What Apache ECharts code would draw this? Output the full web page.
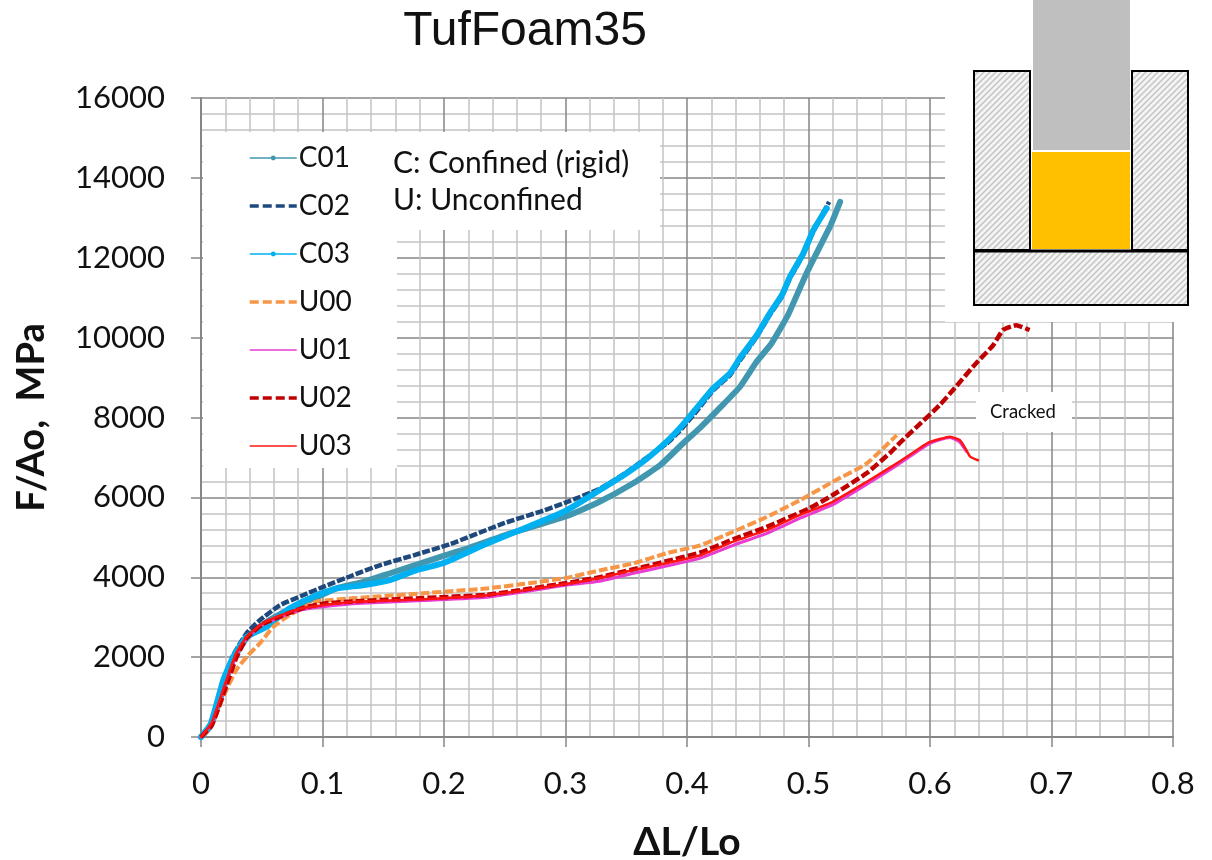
<!DOCTYPE html>
<html><head><meta charset="utf-8">
<style>html,body{margin:0;padding:0;background:#fff}#c{width:1212px;height:860px}</style>
<script src="https://cdn.jsdelivr.net/npm/echarts@6/dist/echarts.min.js"></script>
</head><body><div id="c"></div>
<script>
const C01=[[0,0],[.008,280],[.0184,1200],[.0266,1950],[.0376,2480],[.054,2880],[.073,3200],[.095,3500],[.112,3730],[.133,3880],[.1556,4100],[.197,4510],[.219,4720],[.25,5050],[.3,5520],[.328,5890],[.356,6360],[.378,6810],[.397,7360],[.4107,7740],[.427,8240],[.4436,8770],[.4574,9400],[.4697,9860],[.483,10560],[.4985,11620],[.5177,12780],[.526,13400]];
const C02=[[0,0],[.008,320],[.0181,1340],[.0266,2050],[.0376,2600],[.0486,2930],[.065,3300],[.084,3550],[.1006,3760],[.125,4050],[.147,4300],[.175,4550],[.205,4830],[.25,5360],[.28,5650],[.3,5870],[.328,6210],[.35,6620],[.367,7000],[.383,7340],[.394,7660],[.408,8160],[.4216,8680],[.4354,9060],[.4436,9430],[.4574,10020],[.468,10560],[.478,11020],[.4847,11480],[.4957,12080],[.504,12660],[.517,13400]];
const C03=[[0,0],[.008,330],[.0184,1430],[.0266,2010],[.0376,2510],[.054,2760],[.073,3220],[.095,3550],[.112,3720],[.133,3800],[.1556,3930],[.1775,4180],[.199,4350],[.232,4800],[.26,5150],[.3,5660],[.328,6180],[.35,6600],[.367,6970],[.383,7390],[.394,7730],[.408,8240],[.4216,8730],[.4354,9110],[.4436,9490],[.4574,10060],[.468,10600],[.478,11060],[.4847,11520],[.4957,12110],[.504,12690],[.515,13240]];
const U00=[[0,0],[.0074,220],[.0184,1010],[.029,1680],[.0389,2050],[.0486,2350],[.0595,2760],[.073,3050],[.095,3390],[.128,3480],[.183,3600],[.235,3720],[.27,3850],[.3,3980],[.328,4170],[.356,4350],[.383,4600],[.411,4800],[.438,5140],[.4656,5510],[.493,5930],[.52,6390],[.548,6850],[.5726,7560]];
const U01=[[0,0],[.009,350],[.021,1400],[.029,2050],[.0376,2480],[.051,2820],[.0705,3060],[.084,3190],[.1006,3260],[.128,3340],[.183,3420],[.235,3500],[.3,3800],[.328,3900],[.356,4100],[.383,4280],[.411,4480],[.438,4800],[.4656,5100],[.493,5480],[.52,5820],[.548,6330],[.5726,6800],[.598,7320],[.608,7440],[.6165,7500],[.6247,7380],[.63,7150]];
const U02=[[0,0],[.009,300],[.021,1300],[.029,1980],[.0376,2480],[.051,2830],[.0705,3080],[.084,3230],[.1006,3340],[.128,3400],[.183,3480],[.235,3560],[.3,3850],[.328,4000],[.356,4200],[.383,4400],[.411,4620],[.438,4950],[.4656,5260],[.501,5730],[.52,6060],[.548,6610],[.567,7110],[.575,7360],[.59,7790],[.608,8310],[.619,8690],[.638,9360],[.652,9810],[.66,10190],[.671,10310],[.682,10190]];
const U03=[[0,0],[.009,370],[.021,1430],[.029,2100],[.0376,2510],[.051,2850],[.0705,3100],[.084,3230],[.1006,3300],[.128,3390],[.183,3450],[.235,3550],[.3,3830],[.328,3980],[.356,4180],[.383,4350],[.411,4550],[.438,4890],[.4656,5180],[.493,5560],[.52,5890],[.548,6390],[.5726,6850],[.585,7100],[.598,7360],[.608,7460],[.6165,7520],[.6247,7430],[.63,7180],[.633,7020],[.6395,6930]];

const FONT='Lato';
function hatch(){
  const s=6,c=document.createElement('canvas');c.width=s;c.height=s;
  const g=c.getContext('2d');g.fillStyle='#f4f4f4';g.fillRect(0,0,s,s);
  g.strokeStyle='#c4c4c4';g.lineWidth=1.5;
  [[-s,s,s,-s],[0,s,s,0],[0,2*s,2*s,0]].forEach(p=>{g.beginPath();g.moveTo(p[0],p[1]);g.lineTo(p[2],p[3]);g.stroke();});
  return {image:c,repeat:'repeat'};
}
const H=hatch();
const rect=(x,y,w,h,style,z)=>({type:'rect',z:z,shape:{x,y,width:w,height:h},style});
const wh={fill:'#fff'};
const txt=(x,y,t,size,extra)=>({type:'text',z:6,x,y,style:Object.assign({text:t,font:size+'px '+FONT,fill:'#111',verticalAlign:'middle'},extra||{})});

const mk=(name,data,color,width,type,z,sym)=>({name,type:'line',data,smooth:.15,showSymbol:false,clip:false,
  symbol:sym?'circle':'none',z,lineStyle:{color,width,type:type||'solid',cap:type?'butt':'round',join:'round'},itemStyle:{color},animation:false});
const series=[
 mk('C01',C01,'#4197B0',6,null,3,true),
 mk('C02',C02,'#1F497D',4.5,[8,2],3,false),
 mk('C03',C03,'#00B0F0',6,null,3,true),
 mk('U00',U00,'#F79646',4,[9,3],4,false),
 mk('U01',U01,'#E83CD0',3,null,4,false),
 mk('U02',U02,'#C00000',4.5,[9,3],4,false),
 mk('U03',U03,'#FF1414',2.5,null,4,false)
];
const lg=(name,color,width,type,marker)=>({name,lineStyle:{color,width,type:type||'solid',cap:'butt'},itemStyle:{color:marker?color:'transparent',borderWidth:0},textStyle:{color:'#111'}});
const chart=echarts.init(document.getElementById('c'));
chart.setOption({
 animation:false,backgroundColor:'#fff',
 title:{text:'TufFoam35',left:520,top:3,textAlign:'center',textStyle:{fontFamily:'Liberation Sans',fontSize:48,fontWeight:'normal',color:'#111'}},
 grid:{left:201,top:98,right:39,bottom:123,outerBoundsMode:'none'},
 legend:{orient:'vertical',left:243,top:138,itemWidth:47,itemHeight:6,itemGap:18,selectedMode:false,z:6,
   textStyle:{fontFamily:FONT,fontSize:28,color:'#111',lineHeight:30,padding:[0,0,0,-3]},
   data:[lg('C01','#4197B0',1.5,null,true),lg('C02','#1F497D',3.5,[9,4]),lg('C03','#00B0F0',1.5,null,true),lg('U00','#F79646',3.5,[9,4]),lg('U01','#E83CD0',1.5),lg('U02','#C00000',3.5,[9,4]),lg('U03','#FF1414',1.5)]},
 xAxis:{type:'value',min:0,max:.8,interval:.1,name:'ΔL/Lo',nameLocation:'middle',nameGap:86,
   nameTextStyle:{fontFamily:FONT,fontSize:39,fontWeight:'bold',color:'#111'},
   axisLine:{show:true,onZero:false,lineStyle:{color:'#868686',width:2}},
   axisTick:{show:true,length:10,lineStyle:{color:'#868686',width:1.5}},minorTick:{show:false,splitNumber:5},
   axisLabel:{fontFamily:FONT,fontSize:31,color:'#111',margin:31,showMinLabel:true,showMaxLabel:true,hideOverlap:false},
   splitLine:{show:true,lineStyle:{color:'#868686',width:1.5}},
   minorSplitLine:{show:true,lineStyle:{color:'#c4c4c4',width:1.5}}},
 yAxis:{type:'value',min:0,max:16000,interval:2000,name:'F/Ao,  MPa',nameLocation:'middle',nameGap:150,
   nameTextStyle:{fontFamily:FONT,fontSize:38,fontWeight:'bold',color:'#111'},
   axisLine:{show:true,onZero:false,lineStyle:{color:'#868686',width:2}},
   axisTick:{show:true,length:10,lineStyle:{color:'#868686',width:1.5}},minorTick:{show:false,splitNumber:5},
   axisLabel:{fontFamily:FONT,fontSize:31,color:'#111',margin:36,formatter:v=>String(v)},
   splitLine:{show:true,lineStyle:{color:'#868686',width:1.5}},
   minorSplitLine:{show:true,lineStyle:{color:'#c4c4c4',width:1.5}}},
 graphic:{elements:[
   rect(945,0,267,322,wh,1),
   rect(203,132,194,336,wh,1),
   rect(397,132,263,98,wh,1),
   rect(976,392,96,40,wh,1),
   txt(393,163,'C: Confined (rigid)',30),
   txt(393,200,'U: Unconfined',30),
   txt(990,412,'Cracked',18.5),
   rect(974,71,56,179,{fill:H,stroke:'#000',lineWidth:2},5),
   rect(1132,71,56,179,{fill:H,stroke:'#000',lineWidth:2},5),
   rect(974,251,214,54,{fill:H,stroke:'#000',lineWidth:2},5),
   rect(1033,0,97,150,{fill:'#BFBFBF'},5),
   rect(1032,152,98,97,{fill:'#FFC000'},5),
   {type:'line',z:5,shape:{x1:973,y1:251,x2:1189,y2:251},style:{stroke:'#000',lineWidth:3}}
 ]},
 series
});
</script></body></html>
